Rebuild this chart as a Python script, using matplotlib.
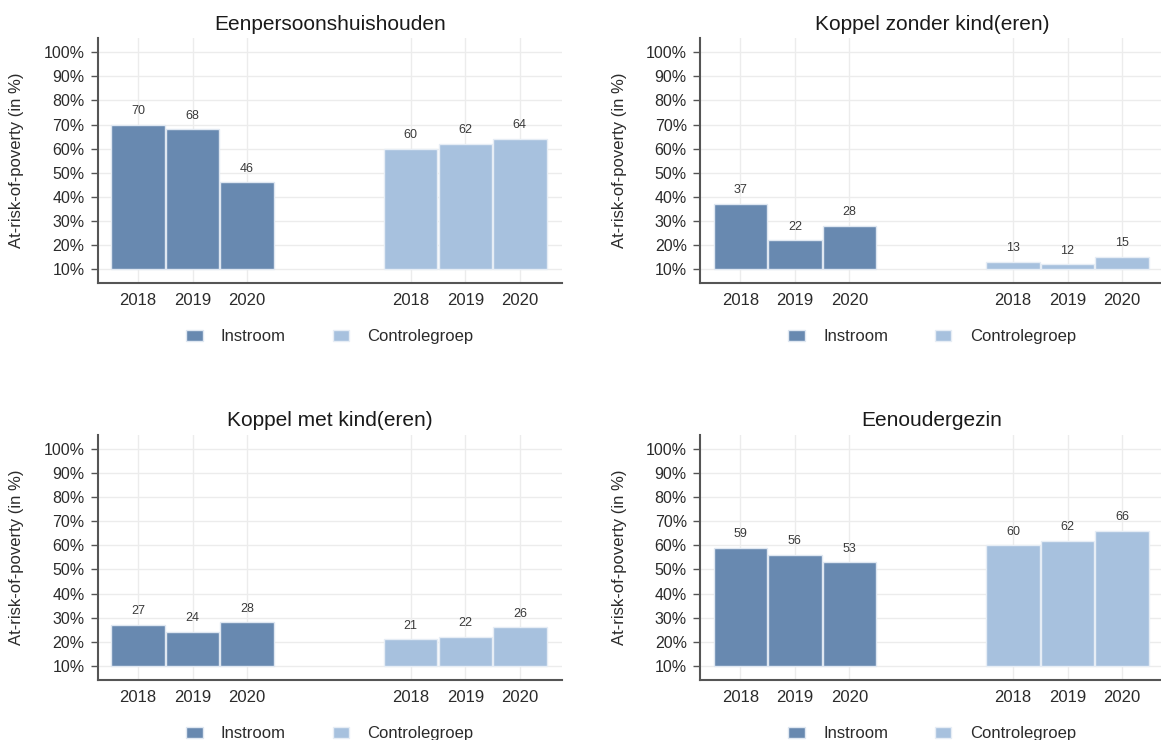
import matplotlib.pyplot as plt

plt.rcParams['font.family'] = ['Liberation Sans', 'DejaVu Sans']

titles = ['Eenpersoonshuishouden', 'Koppel zonder kind(eren)',
          'Koppel met kind(eren)', 'Eenoudergezin']
years = ['2018', '2019', '2020']
instroom = [[70, 68, 46], [37, 22, 28], [27, 24, 28], [59, 56, 53]]
controle = [[60, 62, 64], [13, 12, 15], [21, 22, 26], [60, 62, 66]]
pos_instroom = [1, 2, 3]
pos_controle = [6, 7, 8]
yticks = [10, 20, 30, 40, 50, 60, 70, 80, 90, 100]

col_in = '#6889B0'
col_ct = '#A7C1DE'
text_col = '#2b2b2b'

fig = plt.figure(figsize=(11.61, 7.40), dpi=100)

# axes boxes in figure fractions (left, bottom, width, height)
boxes = [
    [0.0842, 0.6172, 0.3997, 0.3314],
    [0.6029, 0.6172, 0.3997, 0.3314],
    [0.0842, 0.0811, 0.3997, 0.3314],
    [0.6029, 0.0811, 0.3997, 0.3314],
]

for i in range(4):
    ax = fig.add_axes(boxes[i])
    b1 = ax.bar(pos_instroom, [v - 10 for v in instroom[i]], bottom=10, width=0.98,
                color=col_in, edgecolor='#dfe7f1', linewidth=1, label='Instroom', zorder=3)
    b2 = ax.bar(pos_controle, [v - 10 for v in controle[i]], bottom=10, width=0.98,
                color=col_ct, edgecolor='#e6edf5', linewidth=1, label='Controlegroep', zorder=3)
    for x, v in zip(pos_instroom + pos_controle, instroom[i] + controle[i]):
        ax.annotate(str(v), (x, v), xytext=(0, 5.5), textcoords='offset points',
                    ha='center', va='bottom', fontsize=9, color='#3a3a3a')

    ax.set_xlim(0.26, 8.77)
    ax.set_ylim(4.1, 105.9)
    ax.set_xticks(pos_instroom + pos_controle)
    ax.set_xticklabels(years + years)
    ax.set_yticks(yticks)
    ax.set_yticklabels([f'{t}%' for t in yticks])
    ax.tick_params(axis='x', length=0, pad=7, labelsize=12, labelcolor=text_col)
    ax.tick_params(axis='y', length=5, width=1, color='#555555', pad=4.5,
                   labelsize=11.5, labelcolor=text_col)
    ax.grid(True, color='#ececec', linewidth=1, zorder=0)
    ax.set_axisbelow(True)
    for s in ['top', 'right']:
        ax.spines[s].set_visible(False)
    for s in ['left', 'bottom']:
        ax.spines[s].set_color('#555555')
        ax.spines[s].set_linewidth(1.5)

    ax.set_title(titles[i], fontsize=15, color='#1a1a1a', pad=6)
    ax.set_ylabel('At-risk-of-poverty (in %)', fontsize=12, color=text_col)
    ax.yaxis.set_label_coords(-0.158, 0.5)

    ax.legend(loc='center', bbox_to_anchor=(0.5, -0.219), ncol=2, frameon=False,
              fontsize=12, handlelength=1.0, handleheight=0.6, handletextpad=1.1,
              columnspacing=2.8, labelcolor=text_col)

plt.savefig('out.png', dpi=100)
